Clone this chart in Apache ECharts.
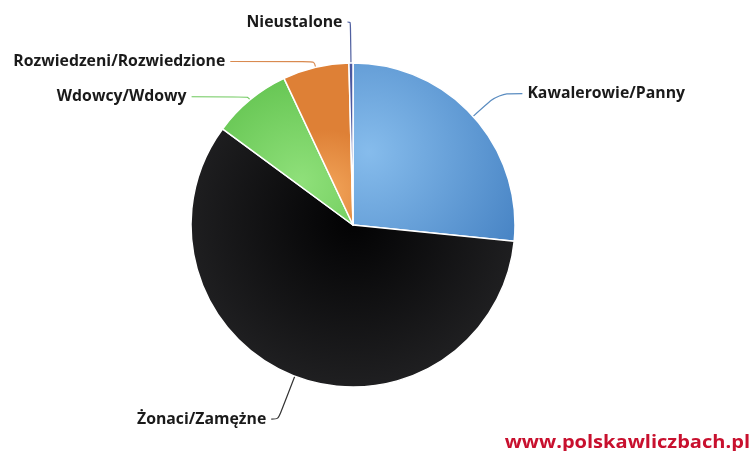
<!DOCTYPE html>
<html><head><meta charset="utf-8">
<script src="https://cdn.jsdelivr.net/npm/echarts@6/dist/echarts.min.js"></script>
<style>html,body{margin:0;padding:0;background:#fff}#c{width:755px;height:451px}</style>
</head><body><div id="c"></div>
<script>
const categories = ['Kawalerowie/Panny', 'Żonaci/Zamężne', 'Wdowcy/Wdowy', 'Rozwiedzeni/Rozwiedzione', 'Nieustalone'];
const values = [26.6, 58.5, 7.9, 6.6, 0.4];

const fills = [
  ['#86bcec', '#4a86c6'],
  ['#020203', '#262628'],
  ['#8fe07a', '#62c34f'],
  ['#f2a55a', '#de8036'],
  ['#6a78c0', '#4a58a0']
];
const lineColors = ['#5a8cc0', '#333333', '#6cc85a', '#d98a50', '#5060a0'];
const lens = [[34, 24], [46, 7], [4, 56], [6, 84], [41, 3]];
const grads = [
  {x: 0.1, y: 0.5, r: 1.0},
  {x: 0.5, y: 0.35, r: 0.8},
  {x: 0.6, y: 0.7, r: 0.9},
  {x: 0.6, y: 0.8, r: 0.9},
  {x: 0.5, y: 0.5, r: 1}
];

const data = categories.map((name, i) => ({
  name, value: values[i],
  itemStyle: {
    color: {type: 'radial', x: grads[i].x, y: grads[i].y, r: grads[i].r,
      colorStops: [{offset: 0, color: fills[i][0]}, {offset: 1, color: fills[i][1]}]}
  },
  labelLine: {length: lens[i][0], length2: lens[i][1], lineStyle: {color: lineColors[i], width: 1.2}}
}));

const chart = echarts.init(document.getElementById('c'), null, {renderer: 'canvas'});
chart.setOption({
  backgroundColor: '#ffffff',
  animation: false,
  series: [{
    type: 'pie',
    center: [353, 225],
    radius: 162,
    startAngle: 90,
    clockwise: true,
    avoidLabelOverlap: false,
    data,
    itemStyle: {borderColor: '#ffffff', borderWidth: 1.5},
    label: {
      show: true, formatter: '{b}', color: '#1a1a1a',
      fontFamily: 'Open Sans', fontWeight: 'bold', fontSize: 15.8
    },
    labelLine: {show: true, smooth: 0.3}
  }],
  graphic: [{
    type: 'text', x: 750, y: 452, scaleX: 1.18,
    style: {text: 'www.polskawliczbach.pl', fill: '#c8102e', font: 'bold 17px "Open Sans"',
      align: 'right', verticalAlign: 'bottom'}
  }]
});
</script></body></html>
